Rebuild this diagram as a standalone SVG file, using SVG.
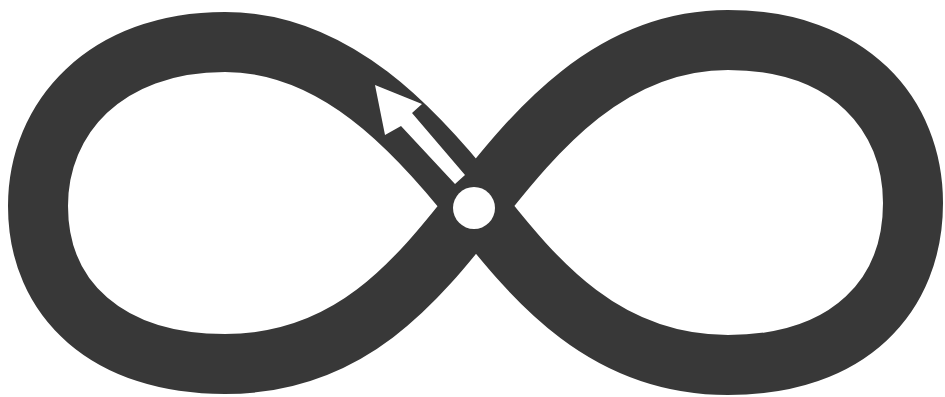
<svg xmlns="http://www.w3.org/2000/svg" width="945" height="397" viewBox="0 0 945 397">
<style>
.band{fill:none;stroke:#383838;stroke-width:60;stroke-linejoin:round}
.white{fill:#ffffff;stroke:none}
</style>
<rect width="945" height="397" fill="#ffffff"/>
<g id="infinity-loop">
<path class="band" d="M 476 206 C 416 130, 335 42, 225 42 C 105 42, 38 118, 38 206 C 38 300, 108 364, 225 364 C 350 364, 416 282, 476 206 C 536 130, 610 40, 728 40 C 850 40, 913 115, 913 203 C 913 295, 850 365, 728 365 C 605 365, 536 282, 476 206 Z"/>
</g>
<g id="center-point">
<circle class="white" cx="474" cy="208" r="21"/>
</g>
<g id="direction-arrow">
<polygon class="white" points="375,85 422,104 412,113 465,175 455,184 401,126 385,135"/>
</g>
</svg>
